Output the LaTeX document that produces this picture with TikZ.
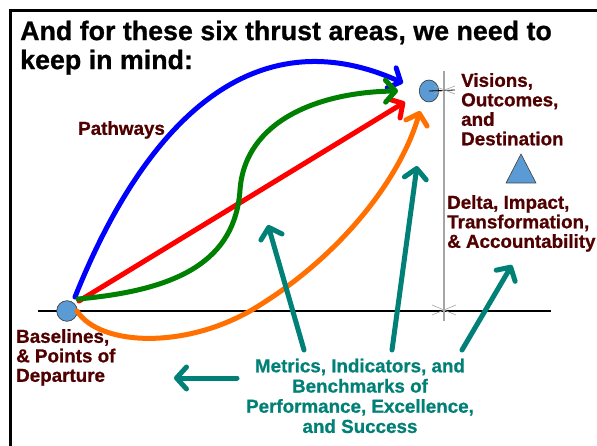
\documentclass[tikz,border=0pt]{standalone}
\usepackage{fontspec}
\setmainfont{Liberation Sans}[BoldFeatures={FakeBold=0.8}]
\usetikzlibrary{arrows.meta,shapes.geometric}
\definecolor{lblred}{RGB}{80,0,0}
\definecolor{tealc}{RGB}{0,128,118}
\definecolor{dotblue}{RGB}{91,155,213}
\definecolor{grnc}{RGB}{0,128,0}
\definecolor{orgc}{RGB}{255,112,0}
\definecolor{gryc}{RGB}{165,165,165}
\tikzset{
  lbl/.style={anchor=north west, inner sep=0pt, align=left, text=lblred,
    font=\fontsize{18.8}{19.5}\selectfont\bfseries},
  metric/.style={anchor=north, inner sep=0pt, align=center, text=tealc,
    font=\fontsize{18.8}{20.2}\selectfont\bfseries},
  ttl/.style={anchor=north west, inner sep=0pt, align=left,
    font=\fontsize{26.8}{29}\selectfont\bfseries},
  dot/.style={draw=black!80, line width=0.6pt, fill=dotblue, inner sep=0pt},
  path arrow/.style={line width=5pt, line cap=round,
    -{Straight Barb[length=10pt,width=22pt,round]}},
  teal arrow/.style={path arrow, draw=tealc},
}
\begin{document}
\begin{tikzpicture}[x=1pt,y=-1pt]
\useasboundingbox (0,0) rectangle (597,446);
\fill[white] (0,0) rectangle (597,446);
% frame
\draw[line width=2.6pt] (10.5,446) -- (10.5,10.5) -- (597,10.5);
% title
\node[ttl] (title) at (20,20.5) {And for these six thrust areas, we need to\\keep in mind:};
% axes
\draw[line width=2.4pt] (38,311) -- (551,311);
\draw[gryc, line width=1.2pt] (444,71) -- (444,321);
\draw[gryc, line width=0.6pt] (432,305) -- (456,315) (432,315) -- (456,305);
% points
\node[dot, circle, minimum size=20.6pt] (start) at (67,311) {};
\node[dot, ellipse, minimum width=19.4pt, minimum height=22pt] (goal) at (429,91) {};
\draw[black, line width=0.8pt] (goal.center) -- (455,90);
\draw[gryc, line width=0.6pt] (434,94) -- (455,86) (434,86) -- (455,94);
% triangle
\draw[fill=dotblue, draw=black!75, line width=0.6pt] (506,183) -- (536,183) -- (521,154) -- cycle;
% tip coordinates
\coordinate (s1) at (75,297);
\coordinate (s2) at (78,299);
\coordinate (s3) at (79,301);
\coordinate (s4) at (77,311);
\coordinate (tb) at (403,83);
\coordinate (tg) at (398,91);
\coordinate (tr) at (405,102);
\coordinate (to) at (420,111);
% pathways
\draw[path arrow, blue] (s1) .. controls (145,122) and (253,15.5) .. (tb);
\draw[path arrow, red] (s3) -- (tr);
\draw[path arrow, grnc] (s2) .. controls (180,290) and (235,260) .. (240,190)
   .. controls (245,120) and (320,92) .. (tg);
\draw[path arrow, orgc] (s4) .. controls (100,347) and (190,350) .. (260,305)
   .. controls (340,255) and (400,180) .. (to);
% labels
\node[lbl] (pathways) at (78,121) {Pathways};
\node[lbl] (visions) at (461,73) {Visions,\\Outcomes,\\and\\Destination};
\node[lbl] (delta) at (447,195) {Delta, Impact,\\Transformation,\\\& Accountability};
\node[lbl] (baselines) at (16,329) {Baselines,\\\& Points of\\Departure};
\node[metric] (metrics) at (360,358.5) {Metrics, Indicators, and\\Benchmarks of\\Performance, Excellence,\\and Success};
% teal arrows
\coordinate (m0) at (237,378);
\coordinate (a0) at (174,378);
\coordinate (m1) at (304,350);
\coordinate (a1) at (268,225);
\coordinate (m2) at (392,350);
\coordinate (a2) at (417,166);
\coordinate (m3) at (462,350);
\coordinate (a3) at (512,265);
\draw[teal arrow] (m0) -- (a0);
\draw[teal arrow] (m1) -- (a1);
\draw[teal arrow] (m2) -- (a2);
\draw[teal arrow] (m3) -- (a3);
\end{tikzpicture}
\end{document}
